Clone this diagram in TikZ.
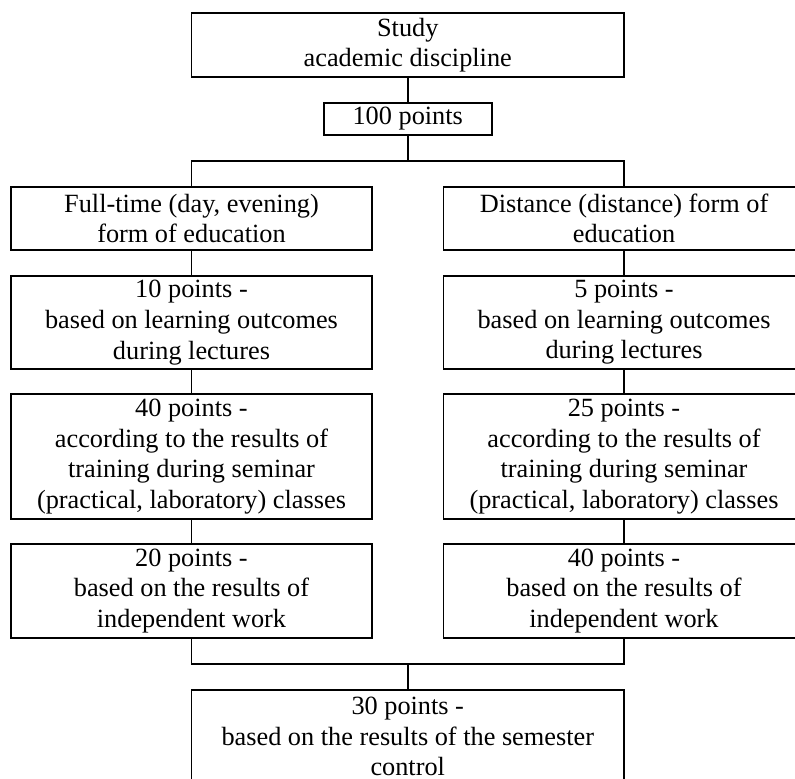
\documentclass[tikz,border=0pt]{standalone}
\usepackage{fontspec}
\setmainfont{Liberation Serif}
\usetikzlibrary{positioning}

\begin{document}
\begin{tikzpicture}[x=0.5pt, y=-0.5pt, font=\fontsize{13.15}{15.3}\selectfont, line width=0.9pt,
	block/.style={draw, align=center, inner sep=0pt, outer sep=0pt, minimum width=180.5pt},
	line join=miter]
	\useasboundingbox (0,0) rectangle (795,778);

	% Discipline
	\node[block, minimum width=216.25pt, minimum height=32pt] (study) at (407.75, 45) {Study\\academic discipline};
	\node[block, minimum width=84pt, minimum height=16pt] (hundred) at (407.75, 119) {100 points};
	\coordinate (split) at (407.75, 161);

	% Full-time
	\node[block, minimum height=31.5pt] (full) at (191.5, 218.5) {Full-time (day, evening)\\form of education};
	\node[block, minimum height=46.5pt] (lect10) at (191.5, 322.5) {10 points -\\based on learning outcomes\\during lectures};
	\node[block, minimum height=62.5pt] (sem40) at (191.5, 456.5) {40 points -\\according to the results of\\training during seminar\\(practical, laboratory) classes};
	\node[block, minimum height=47pt] (ind20) at (191.5, 591) {20 points -\\based on the results of\\independent work};

	% Distance
	\node[block, minimum height=31.5pt] (dist) at (624, 218.5) {Distance (distance) form of\\education};
	\node[block, minimum height=46.5pt] (lect5) at (624, 322.5) {5 points -\\based on learning outcomes\\during lectures};
	\node[block, minimum height=62.5pt] (sem25) at (624, 456.5) {25 points -\\according to the results of\\training during seminar\\(practical, laboratory) classes};
	\node[block, minimum height=47pt] (ind40) at (624, 591) {40 points -\\based on the results of\\independent work};

	% Semester control
	\coordinate (merge) at (407.75, 664);
	\node[block, minimum width=216.25pt, minimum height=46.5pt] (final) at (407.75, 736.5) {30 points -\\based on the results of the semester\\control};

	\draw (study) -- (hundred);
	\draw (hundred) -- (split);
	\draw (full.north) |- (split) -| (dist.north);
	\draw (full) -- (lect10);
	\draw (lect10) -- (sem40);
	\draw (sem40) -- (ind20);
	\draw (dist) -- (lect5);
	\draw (lect5) -- (sem25);
	\draw (sem25) -- (ind40);
	\draw (ind20.south) |- (merge) -| (ind40.south);
	\draw (merge) -- (final);
\end{tikzpicture}
\end{document}
